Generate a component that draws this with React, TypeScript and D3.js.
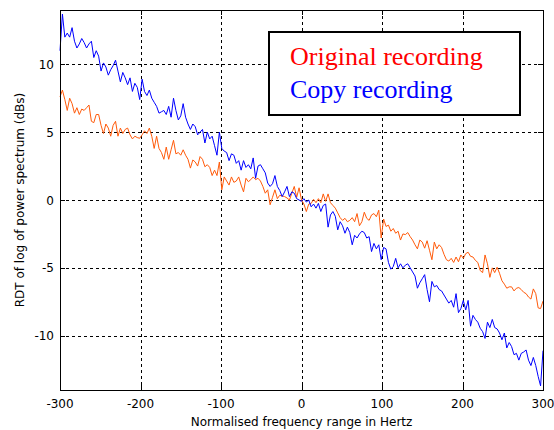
import React from "react";
import * as d3 from "d3";

// Frequency axis: -300 .. 300 Hz in 3 Hz steps (201 samples)
const FREQ_START = -300;
const FREQ_STEP = 3;

// RDT of log power spectrum (dB) for the original recording
const originalValues: number[] = [
  7.6, 8.1, 7.4, 6.6, 7.5, 7.1, 6.4, 6.8, 6.3, 6.7,
  6.6, 6.8, 7.0, 5.8, 5.7, 6.3, 6.3, 5.5, 4.9, 5.6,
  5.3, 4.7, 5.5, 5.8, 4.7, 5.3, 4.9, 5.2, 5.3, 4.8,
  4.5, 4.7, 4.6, 4.55, 4.8, 5.1, 4.9, 5.3, 4.7, 3.8,
  4.7, 3.8, 3.5, 3.0, 3.9, 3.0, 3.7, 4.4, 3.4, 3.5,
  3.3, 3.7, 3.3, 3.0, 2.35, 2.95, 2.8, 2.5, 3.2, 3.0,
  2.45, 2.6, 2.4, 1.8, 2.2, 1.8, 2.8, 0.75, 1.7, 1.4,
  1.1, 1.7, 1.3, 1.4, 1.7, 1.1, 0.6, 1.6, 1.35, 1.5,
  1.7, 1.5, 1.6, 1.4, 1.0, 0.5, 0.75, -0.35, 0.2, 0.75,
  0.1, 0.35, 0.3, 0.25, 0.15, 0.0, 0.5, 1.0, 0.2, 0.9,
  0.0, -0.3, -0.85, -0.3, -0.25, 0.05, -0.2, 0.1, -0.2, 0.45,
  -0.1, 0.45, -0.2, -0.4, -0.6, -0.95, -1.3, -1.5, -1.35, -1.6,
  -1.5, -1.3, -1.6, -1.0, -1.9, -1.6, -0.9, -1.35, -1.5, -1.1,
  -1.0, -1.23, -0.75, -2.8, -1.4, -1.95, -1.85, -2.3, -2.1, -2.45,
  -2.3, -2.95, -2.5, -2.55, -2.4, -2.7, -2.95, -3.3, -3.6, -2.95,
  -3.1, -3.55, -3.0, -3.7, -4.4, -3.1, -3.6, -3.3, -3.5, -4.0,
  -4.4, -4.5, -4.3, -4.6, -4.2, -4.55, -4.05, -4.3, -3.95, -3.85,
  -4.15, -4.2, -4.45, -4.6, -5.2, -5.35, -4.05, -4.7, -5.7, -5.0,
  -5.35, -4.95, -5.4, -5.95, -6.2, -6.5, -6.4, -6.4, -6.7, -6.5,
  -6.45, -6.6, -6.8, -6.9, -7.15, -7.3, -6.55, -6.9, -7.95, -8.0,
  -7.45,
];

// RDT of log power spectrum (dB) for the copy recording
const copyValues: number[] = [
  11.0, 13.7, 12.0, 12.3, 12.0, 12.7, 11.7, 11.2, 11.5, 11.9,
  11.6, 11.2, 11.5, 11.7, 10.5, 11.0, 10.6, 9.5, 10.1, 9.8,
  9.2, 9.6, 9.9, 10.3, 9.5, 8.7, 9.4, 9.0, 8.5, 9.0,
  8.0, 8.6, 8.3, 7.4, 8.9, 8.0, 7.7, 8.1, 7.5, 7.2,
  6.9, 6.4, 6.5, 6.6, 6.3, 6.9, 6.1, 7.5, 6.6, 5.9,
  6.2, 7.1, 6.1, 5.6, 5.2, 5.6, 5.4, 4.8, 5.0, 5.2,
  4.2, 5.0, 4.5, 4.7, 4.0, 3.3, 5.0, 3.8, 3.6, 3.5,
  2.9, 3.4, 3.3, 2.7, 2.9, 2.2, 2.9, 2.4, 2.6, 2.3,
  3.1, 1.6, 2.5, 2.6, 2.3, 2.0, 1.25, 1.0, 1.2, 1.8,
  1.0, 0.7, 0.25, 0.6, 1.0, 0.25, 0.6, 0.5, 0.1, 0.0,
  -0.1, 0.1, -0.15, 0.0, -0.5, -0.3, -0.6, -0.25, -0.85, -0.4,
  -0.3, -2.0, -1.1, -0.85, -1.2, -2.2, -1.6, -1.9, -2.45, -2.0,
  -2.4, -3.3, -2.6, -2.8, -2.5, -2.3, -2.4, -2.8, -2.7, -3.8,
  -3.2, -3.6, -3.3, -4.4, -3.5, -3.6, -4.6, -5.1, -4.9, -4.3,
  -5.0, -4.7, -5.0, -4.8, -4.7, -5.0, -5.3, -5.6, -6.5, -6.1,
  -5.8, -5.5, -6.6, -7.5, -6.0, -6.4, -6.3, -6.6, -6.7, -7.0,
  -7.3, -7.6, -7.4, -7.9, -6.9, -8.3, -8.0, -7.4, -8.1, -7.4,
  -9.3, -8.5, -8.8, -9.0, -9.45, -9.7, -10.2, -9.0, -9.4, -8.8,
  -9.4, -9.5, -9.8, -10.3, -9.8, -10.9, -10.5, -10.8, -11.4, -11.3,
  -11.8, -11.3, -11.2, -11.05, -11.8, -12.2, -11.6, -12.2, -13.0, -13.7,
  -11.1,
];

const xTicks = [-300, -200, -100, 0, 100, 200, 300];
const yTicks = [-10, -5, 0, 5, 10];

const seriesNames = ["Original recording", "Copy recording"];
const seriesColors = ["#ff5a0a", "#0000ff"];
const legendColors = ["#ff0000", "#0000ff"];

const WIDTH = 554;
const HEIGHT = 430;
const plot = { left: 60, right: 543, top: 10, bottom: 390 };

export default function App() {
  const x = d3.scaleLinear().domain([-300, 300]).range([plot.left, plot.right]);
  const y = d3.scaleLinear().domain([-14, 14]).range([plot.bottom, plot.top]);

  const line = d3
    .line<number>()
    .x((_, i) => x(FREQ_START + i * FREQ_STEP))
    .y((d) => y(d));

  const series = [originalValues, copyValues];
  const axisFont = "'DejaVu Sans', Verdana, sans-serif";

  return (
    <svg
      width={WIDTH}
      height={HEIGHT}
      style={{ position: "absolute", left: 0, top: 0, background: "#ffffff" }}
    >
      <rect x={0} y={0} width={WIDTH} height={HEIGHT} fill="#ffffff" />
      <rect
        x={plot.left}
        y={plot.top}
        width={plot.right - plot.left}
        height={plot.bottom - plot.top}
        fill="#ffffff"
      />

      {/* dashed grid */}
      <g stroke="#000" strokeWidth={1} strokeDasharray="3,3" shapeRendering="crispEdges">
        {xTicks.slice(1, -1).map((t) => (
          <line key={`gx${t}`} x1={Math.round(x(t)) + 0.5} x2={Math.round(x(t)) + 0.5} y1={plot.top} y2={plot.bottom} />
        ))}
        {yTicks.map((t) => (
          <line key={`gy${t}`} x1={plot.left} x2={plot.right} y1={Math.round(y(t)) + 0.5} y2={Math.round(y(t)) + 0.5} />
        ))}
      </g>

      {/* data */}
      {series.map((values, i) => (
        <path
          key={seriesNames[i]}
          d={line(values) ?? ""}
          fill="none"
          stroke={seriesColors[i]}
          strokeWidth={1}
          strokeLinejoin="round"
        />
      ))}

      {/* axes box and ticks */}
      <g stroke="#000" strokeWidth={1} shapeRendering="crispEdges">
        <rect
          x={plot.left + 0.5}
          y={plot.top + 0.5}
          width={plot.right - plot.left}
          height={plot.bottom - plot.top}
          fill="none"
        />
        {xTicks.map((t) => (
          <g key={`tx${t}`}>
            <line x1={Math.round(x(t)) + 0.5} x2={Math.round(x(t)) + 0.5} y1={plot.bottom} y2={plot.bottom - 5} />
            <line x1={Math.round(x(t)) + 0.5} x2={Math.round(x(t)) + 0.5} y1={plot.top} y2={plot.top + 5} />
          </g>
        ))}
        {yTicks.map((t) => (
          <g key={`ty${t}`}>
            <line x1={plot.left} x2={plot.left + 5} y1={Math.round(y(t)) + 0.5} y2={Math.round(y(t)) + 0.5} />
            <line x1={plot.right} x2={plot.right - 5} y1={Math.round(y(t)) + 0.5} y2={Math.round(y(t)) + 0.5} />
          </g>
        ))}
      </g>

      {/* tick labels */}
      <g fontFamily={axisFont} fontSize={12} fill="#000">
        {xTicks.map((t) => (
          <text key={`lx${t}`} x={x(t)} y={plot.bottom + 18} textAnchor="middle">
            {t}
          </text>
        ))}
        {yTicks.map((t) => (
          <text key={`ly${t}`} x={plot.left - 6} y={y(t) + 4.5} textAnchor="end">
            {t}
          </text>
        ))}
      </g>

      {/* axis titles */}
      <text
        x={(plot.left + plot.right) / 2}
        y={426}
        textAnchor="middle"
        fontFamily={axisFont}
        fontSize={12}
        fill="#000"
      >
        Normalised frequency range in Hertz
      </text>
      <text
        transform={`translate(24, ${(plot.top + plot.bottom) / 2}) rotate(-90)`}
        textAnchor="middle"
        fontFamily={axisFont}
        fontSize={12}
        fill="#000"
      >
        RDT of log of power spectrum (dBs)
      </text>

      {/* legend */}
      <g>
        <rect x={269} y={32} width={251} height={83} fill="#ffffff" stroke="#000" strokeWidth={2} />
        {seriesNames.map((name, i) => (
          <text
            key={`leg${i}`}
            x={290}
            y={65 + i * 32.5}
            fontFamily="'Times New Roman', 'Liberation Serif', serif"
            fontSize={26}
            fill={legendColors[i]}
          >
            {name}
          </text>
        ))}
      </g>
    </svg>
  );
}
